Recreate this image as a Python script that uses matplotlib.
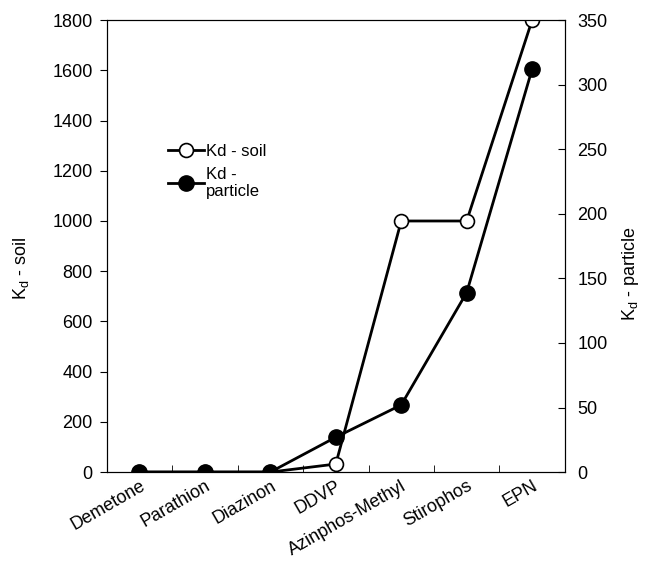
import matplotlib.pyplot as plt
import numpy as np

plt.rcParams['font.family'] = ['Liberation Sans', 'DejaVu Sans']

# pesticidas y coeficientes de reparto
compuestos = ['Demetone', 'Parathion', 'Diazinon', 'DDVP',
              'Azinphos-Methyl', 'Stirophos', 'EPN']
kd_suelo = [0, 0, 0, 32, 1000, 1000, 1800]
kd_particula = [0, 0, 0, 27, 52, 139, 312]

yticks_izq = np.arange(0, 1801, 200)
yticks_der = np.arange(0, 351, 50)

fig = plt.figure(figsize=(6.47, 5.75), dpi=100)
ax = fig.add_axes([0.165, 0.179, 0.708, 0.786])
ax2 = ax.twinx()

x = np.arange(len(compuestos))

#curva de suelo (eje izquierdo)
l1, = ax.plot(x, kd_suelo, color='black', lw=2, marker='o', ms=10,
              mfc='white', mec='black', mew=1.2, label='Kd - soil', zorder=2)
#curva de particula (eje derecho)
l2, = ax2.plot(x, kd_particula, color='black', lw=2, marker='o', ms=11,
               mfc='black', mec='black', label='Kd -\nparticle', zorder=3)

ax.set_xlim(-0.5, 6.5)
ax.set_ylim(0, 1800)
ax2.set_ylim(0, 350)
ax.set_yticks(yticks_izq)
ax2.set_yticks(yticks_der)

ax.set_xticks(x)
ax.set_xticklabels(compuestos, rotation=30, ha='right', rotation_mode='anchor',
                   fontsize=13)
ax.set_xticks(x[:-1] + 0.5, minor=True)
ax.tick_params(axis='x', which='major', length=0, pad=4)
ax.tick_params(axis='x', which='minor', direction='in', length=5)
ax.tick_params(axis='y', direction='out', length=5, labelsize=13, pad=5)
ax2.tick_params(axis='y', direction='in', length=5, labelsize=13, pad=9)

ax.set_ylabel('K$_\\mathregular{d}$ - soil', fontsize=13)
ax2.set_ylabel('K$_\\mathregular{d}$ - particle', fontsize=13)
ax.yaxis.set_label_coords(-0.165, 0.45)
ax2.yaxis.set_label_coords(1.12, 0.44)

ax.legend([l1, l2], ['Kd - soil', 'Kd -\nparticle'], frameon=False,
          fontsize=12, loc='upper left', bbox_to_anchor=(0.1, 0.76),
          handlelength=2.2, handletextpad=0.1, labelspacing=0.5)

fig.savefig('out.png', dpi=100)
